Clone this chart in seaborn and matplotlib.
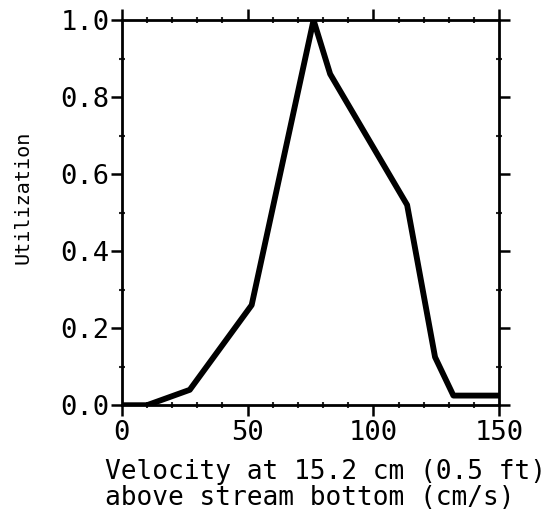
import pandas as pd
import matplotlib.pyplot as plt
import seaborn as sns
from matplotlib.ticker import MultipleLocator

# values
velocity = [0, 10, 27, 51.6, 76.2, 82.8, 113.4, 124.5, 131.8, 150]
utilization = [0.0, 0.0, 0.04, 0.26, 1.0, 0.86, 0.52, 0.125, 0.025, 0.025]

x_ticks = [0, 50, 100, 150]
y_ticks = [0.0, 0.2, 0.4, 0.6, 0.8, 1.0]

df = pd.DataFrame({"velocity": velocity, "utilization": utilization})

sns.set_style("ticks")
plt.rcParams["font.family"] = ["DejaVu Sans Mono"]
plt.rcParams["text.color"] = "black"
plt.rcParams["axes.labelcolor"] = "black"

fig = plt.figure(figsize=(5.59, 5.29), dpi=100)
ax = fig.add_axes([0.218, 0.234, 0.675, 0.728])

sns.lineplot(data=df, x="velocity", y="utilization", color="black",
             linewidth=4.2, ax=ax)

ax.set_xlim(0, 150)
ax.set_ylim(0, 1.0)
ax.set_xticks(x_ticks)
ax.set_yticks(y_ticks)
ax.set_xticklabels([str(t) for t in x_ticks])
ax.set_yticklabels([f"{t:.1f}" for t in y_ticks])
ax.xaxis.set_minor_locator(MultipleLocator(10))
ax.yaxis.set_minor_locator(MultipleLocator(0.1))

for s in ax.spines.values():
    s.set_linewidth(2)
    s.set_color("black")

ax.tick_params(which="major", direction="out", length=8, width=1.8,
               labelsize=19.5, colors="black", top=True, right=True)
ax.tick_params(which="minor", direction="inout", length=5, width=1.5,
               top=True, right=True)
ax.tick_params(axis="x", pad=3)
ax.tick_params(axis="y", pad=1)

ax.set_xlabel("Velocity at 15.2 cm (0.5 ft)\nabove stream bottom (cm/s)",
              fontsize=18.9, linespacing=1.0)
ax.xaxis.set_label_coords(-0.045, -0.206)
ax.xaxis.label.set_ha("left")
ax.xaxis.label.set_va("center")

ax.set_ylabel("Utilization", fontsize=14.5)
ax.yaxis.set_label_coords(-0.236, 0.54)

fig.savefig("out.png", dpi=100)
